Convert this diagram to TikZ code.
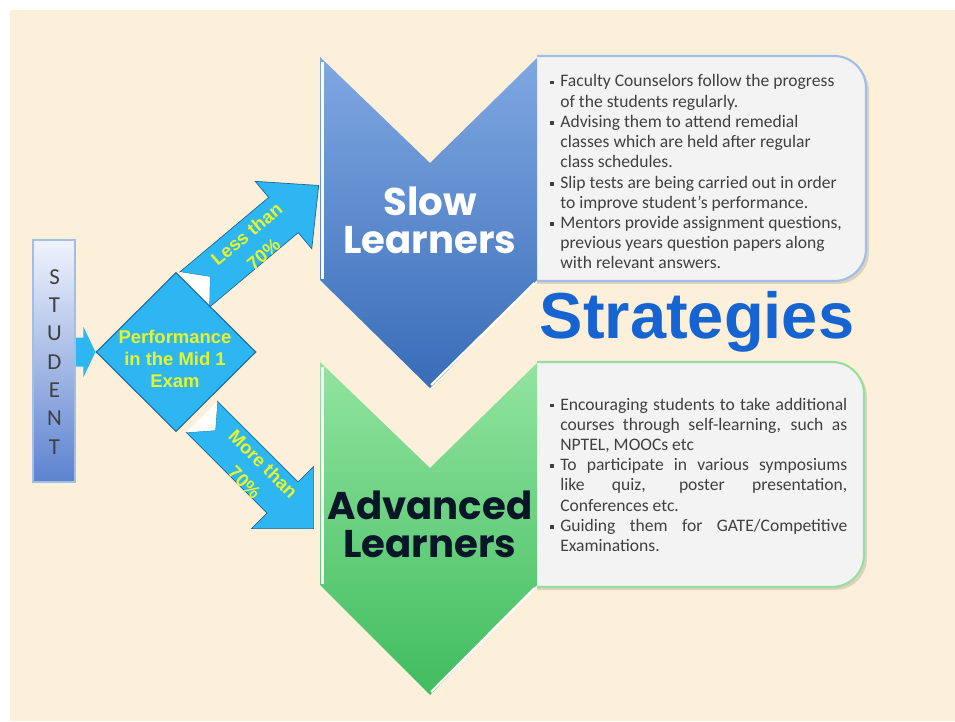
\documentclass[tikz,border=0pt]{standalone}
\usepackage{fontspec}
\setmainfont{Carlito}
\newfontfamily\headfont{Liberation Sans}
\newfontfamily\chevfont{Poppins}
\usetikzlibrary{shapes.geometric}

\definecolor{cream}{RGB}{252,240,218}
\definecolor{flowblue}{RGB}{45,182,242}
\definecolor{flowedge}{RGB}{30,105,150}
\definecolor{flowtext}{RGB}{232,244,40}
\definecolor{slowtop}{RGB}{128,168,226}
\definecolor{slowbot}{RGB}{56,108,184}
\definecolor{advtop}{RGB}{146,228,160}
\definecolor{advbot}{RGB}{64,188,94}
\definecolor{advink}{RGB}{8,22,40}
\definecolor{boxfill}{RGB}{243,243,243}
\definecolor{slowedge}{RGB}{160,190,232}
\definecolor{advedge}{RGB}{150,222,160}
\definecolor{stratblue}{RGB}{22,100,210}
\definecolor{bartop}{RGB}{240,243,252}
\definecolor{barbot}{RGB}{92,130,208}
\definecolor{inktext}{RGB}{64,64,64}

\newcommand\bitem{\par\hangindent=0.2cm\hangafter=1\noindent\makebox[0.2cm][l]{\raisebox{0.3ex}{\rule{2.2pt}{2.2pt}}}}

\tikzset{
  flowlabel/.style={text=flowtext, inner sep=0, align=center, font=\headfont\bfseries\fontsize{10.5}{12.5}\selectfont},
  armlabel/.style={flowlabel, font=\headfont\bfseries\fontsize{10.5}{14.9}\selectfont},
  chevlabel/.style={align=center, inner sep=0, font=\chevfont\bfseries\fontsize{22}{21.5}\selectfont},
  boxtext/.style={anchor=base west, inner sep=0, text=inktext, font=\fontsize{10}{11.5}\selectfont},
  barletter/.style={text=black!75, inner sep=0, font=\fontsize{13}{13}\selectfont},
  infobox/.style={fill=boxfill, line width=1.2pt, rounded corners=0.64cm}
}

\begin{document}
\begin{tikzpicture}[x=0.02cm,y=-0.02cm]
    \useasboundingbox (0,0) rectangle (955,722);
    \fill[white] (0,0) rectangle (955,722);
    \fill[cream] (10,10) rectangle (955,721);

    % Info boxes (left side hidden by the chevrons)
    \begin{scope}
        \clip (537,0) rectangle (955,722);
        \fill[black, opacity=0.12, rounded corners=0.64cm] (500,59) rectangle (869,284);
        \draw[infobox, draw=slowedge] (500,56) rectangle (866,281);
        \fill[black, opacity=0.12, rounded corners=0.64cm] (500,365) rectangle (867,590);
        \draw[infobox, draw=advedge] (500,362) rectangle (864,587);
    \end{scope}

    % Block arrows out of the diamond
    \coordinate (lessback) at (194.6,289.6);
    \coordinate (moreback) at (201.9,416.9);
    \begin{scope}[shift={(lessback)}, rotate=40]
        \filldraw[fill=flowblue, draw=flowedge, line width=0.4pt]
            (0,-23) -- (116,-23) -- (116,-44) -- (162,0) -- (116,44) -- (116,23) -- (0,23) -- (20,0) -- cycle;
        \fill[white] (0,-23) -- (20,0) -- (0,23) -- cycle;
        \node[armlabel, rotate=40] (less) at (75.5,4) {Less than\\70\%};
    \end{scope}
    \begin{scope}[shift={(moreback)}, rotate=-45]
        \filldraw[fill=flowblue, draw=flowedge, line width=0.4pt]
            (0,-22) -- (114,-22) -- (114,-44) -- (158,0) -- (114,44) -- (114,22) -- (0,22) -- (19,0) -- cycle;
        \fill[white] (0,-22) -- (19,0) -- (0,22) -- cycle;
        \node[armlabel, rotate=-45] (more) at (76.5,2.8) {More than\\70\%};
    \end{scope}

    % Chevrons
    \shade[top color=slowtop, bottom color=slowbot] (320,57) -- (430,163) -- (537,58) -- (537,280) -- (430,388) -- (320,280) -- cycle;
    \draw[white, line width=1.2pt] (322.5,62) -- (322.5,279);
    \draw[white, line width=1.2pt] (534.5,283) -- (431,385);
    \shade[top color=advtop, bottom color=advbot] (320,362) -- (430,468) -- (537,363) -- (537,585) -- (430,695) -- (320,585) -- cycle;
    \draw[white, line width=1.2pt] (322.5,367) -- (322.5,584);
    \draw[white, line width=1.2pt] (534.5,588) -- (431,692);

    % Diamond and student bar
    \node[diamond, fill=flowblue, draw=flowedge, line width=0.6pt, minimum width=3.2cm, minimum height=3.18cm, inner sep=0] (perf) at (176,352) {};
    \node[flowlabel] (perftext) at (175,359) {Performance\\in the Mid 1\\Exam};
    \fill[flowblue] (perf.west) -- ++(-12,-25) -- ++(0,10.5) -- ++(-12,0) -- ++(0,29) -- ++(12,0) -- ++(0,10.5) -- cycle;
    \node[top color=bartop, bottom color=barbot, draw=slowedge, line width=0.6pt, minimum width=0.84cm, minimum height=4.84cm, inner sep=0] (student) at (54,361) {};
    \foreach \ch [count=\i from 0] in {S,T,U,D,E,N,T}
        \node[barletter] (st\i) at (54.5,{277+28.3*\i}) {\ch};

    % Chevron labels
    \node[chevlabel, text=white] (slow) at (430,220) {Slow\\Learners};
    \node[chevlabel, text=advink] (adv) at (430,524) {Advanced\\Learners};

    % Box texts
    \node[boxtext] (slowtext) at (550,87) {\parbox[t]{5.94cm}{\raggedright
        \bitem Faculty Counselors follow the progress\newline of the students regularly.
        \bitem Advising them to attend remedial\newline classes which are held after regular\newline class schedules.
        \bitem Slip tests are being carried out in order\newline to improve student's performance.
        \bitem Mentors provide assignment questions,\newline previous years question papers along\newline with relevant answers.\par}};
    \node[boxtext] (advtext) at (550,410) {\parbox[t]{5.94cm}{
        \bitem Encouraging students to take additional\linebreak courses through self-learning, such as\linebreak NPTEL, MOOCs etc
        \bitem To participate in various symposiums\linebreak like quiz, poster presentation,\linebreak Conferences etc.
        \bitem Guiding them for GATE/Competitive\linebreak Examinations.\par}};

    % Strategies title
    \node[anchor=base, inner sep=0, text=stratblue, font=\headfont\bfseries\fontsize{37}{40}\selectfont] (strat) at (697,338) {Strategies};
\end{tikzpicture}
\end{document}
